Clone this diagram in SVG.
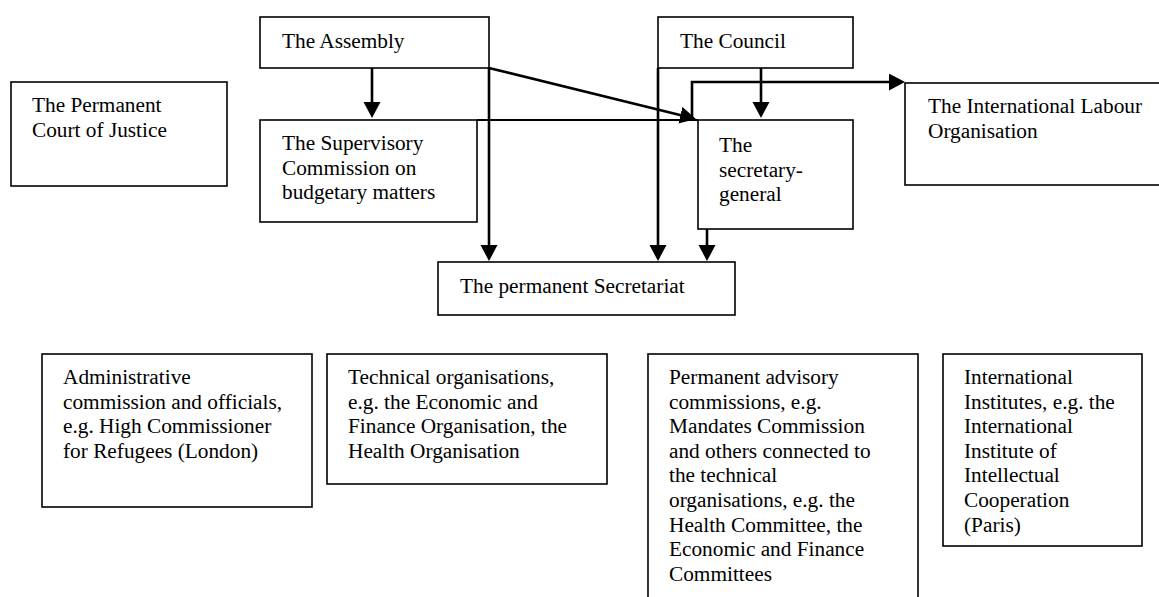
<svg xmlns="http://www.w3.org/2000/svg" width="1159" height="597" viewBox="0 0 1159 597">
<style>
.box{fill:#fff;stroke:#000;stroke-width:1.6}
text{font-family:'Liberation Serif','Times New Roman','DejaVu Serif',serif;font-size:21.3px;fill:#000}
.c{fill:none;stroke:#000;stroke-width:2.6}
.c2{fill:none;stroke:#000;stroke-width:2}
</style>
<defs>
<marker id="ah" markerUnits="userSpaceOnUse" markerWidth="18" markerHeight="18" refX="11" refY="8.5" orient="auto" viewBox="0 0 18 18">
<path d="M0,0 L16,8.5 L0,17 Z" fill="#000"/>
</marker>
</defs>
<rect width="1159" height="597" fill="#fff"/>
<g id="court"><rect class="box" x="11" y="82" width="216" height="104"/>
<text font-family="Liberation Serif, serif" x="32" y="112">The Permanent<tspan x="32" dy="24.6">Court of Justice</tspan></text></g>
<g id="supervisory"><rect class="box" x="260" y="120" width="217" height="102"/>
<text font-family="Liberation Serif, serif" x="282" y="150">The Supervisory<tspan x="282" dy="24.6">Commission on</tspan><tspan x="282" dy="24.6">budgetary matters</tspan></text></g>
<g id="secgen"><rect class="box" x="698" y="120" width="155" height="109"/>
<text font-family="Liberation Serif, serif" x="719" y="152">The<tspan x="719" dy="24.6">secretary-</tspan><tspan x="719" dy="24.6">general</tspan></text></g>
<g id="ilo"><rect class="box" x="905" y="83" width="262" height="102"/>
<text font-family="Liberation Serif, serif" x="928" y="113">The International Labour<tspan x="928" dy="24.6">Organisation</tspan></text></g>
<g id="assembly"><rect class="box" x="260" y="17" width="229" height="51"/>
<text font-family="Liberation Serif, serif" x="282" y="48">The Assembly</text></g>
<g id="council"><rect class="box" x="658" y="17" width="195" height="51"/>
<text font-family="Liberation Serif, serif" x="680" y="48">The Council</text></g>
<g id="secretariat"><rect class="box" x="438" y="262" width="297" height="53"/>
<text font-family="Liberation Serif, serif" x="460" y="293">The permanent Secretariat</text></g>
<g id="admin"><rect class="box" x="42" y="354" width="270" height="153"/>
<text font-family="Liberation Serif, serif" x="63" y="384">Administrative<tspan x="63" dy="24.6">commission and officials,</tspan><tspan x="63" dy="24.6">e.g. High Commissioner</tspan><tspan x="63" dy="24.6">for Refugees (London)</tspan></text></g>
<g id="technical"><rect class="box" x="327" y="354" width="280" height="130"/>
<text font-family="Liberation Serif, serif" x="348" y="384">Technical organisations,<tspan x="348" dy="24.6">e.g. the Economic and</tspan><tspan x="348" dy="24.6">Finance Organisation, the</tspan><tspan x="348" dy="24.6">Health Organisation</tspan></text></g>
<g id="advisory"><rect class="box" x="648" y="354" width="270" height="260"/>
<text font-family="Liberation Serif, serif" x="669" y="384">Permanent advisory<tspan x="669" dy="24.6">commissions, e.g.</tspan><tspan x="669" dy="24.6">Mandates Commission</tspan><tspan x="669" dy="24.6">and others connected to</tspan><tspan x="669" dy="24.6">the technical</tspan><tspan x="669" dy="24.6">organisations, e.g. the</tspan><tspan x="669" dy="24.6">Health Committee, the</tspan><tspan x="669" dy="24.6">Economic and Finance</tspan><tspan x="669" dy="24.6">Committees</tspan></text></g>
<g id="institutes"><rect class="box" x="943" y="354" width="199" height="192"/>
<text font-family="Liberation Serif, serif" x="964" y="384">International<tspan x="964" dy="24.6">Institutes, e.g. the</tspan><tspan x="964" dy="24.6">International</tspan><tspan x="964" dy="24.6">Institute of</tspan><tspan x="964" dy="24.6">Intellectual</tspan><tspan x="964" dy="24.6">Cooperation</tspan><tspan x="964" dy="24.6">(Paris)</tspan></text></g>
<g id="connectors">
<line class="c2" x1="477" y1="120" x2="698" y2="120"/>
<line class="c" x1="372" y1="68" x2="372" y2="113" marker-end="url(#ah)"/>
<line class="c" x1="489" y1="68" x2="489" y2="256" marker-end="url(#ah)"/>
<line class="c" x1="658" y1="68" x2="658" y2="256" marker-end="url(#ah)"/>
<line class="c" x1="707" y1="229" x2="707" y2="256" marker-end="url(#ah)"/>
<line class="c" x1="761" y1="68" x2="761" y2="113" marker-end="url(#ah)"/>
<line class="c" x1="489" y1="68" x2="691.1" y2="117.8" marker-end="url(#ah)"/>
<path class="c" d="M692,118 V82 H900" marker-end="url(#ah)"/>
</g>
</svg>
